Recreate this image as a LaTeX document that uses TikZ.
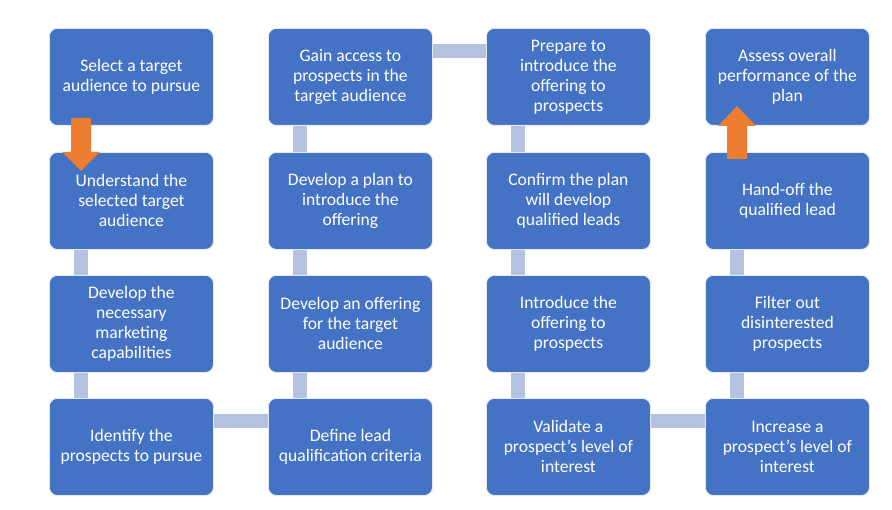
\documentclass[tikz,border=0pt]{standalone}
\usepackage{fontspec}
\setmainfont{Carlito}
\usetikzlibrary{backgrounds}
\definecolor{boxblue}{HTML}{4472C4}
\definecolor{connc}{HTML}{B4C1E1}
\definecolor{arrc}{HTML}{ED7D31}
\tikzset{
  stepbox/.style={draw=white!85!boxblue, line width=0.8bp, fill=boxblue, rounded corners=8bp,
    minimum width=164bp, minimum height=97bp, anchor=north west, align=center,
    text=white, inner sep=2bp, font=\fontsize{17.6bp}{20bp}\selectfont},
  conn/.style={draw=connc, line width=14bp},
  blockarrow/.style={fill=arrc}
}
\begin{document}
\begin{tikzpicture}[x=1bp,y=-1bp]
\useasboundingbox (0,0) rectangle (892,510);
% column 1
\node[stepbox] (a1) at (49,28) {Select a target\\audience to pursue};
\node[stepbox] (a2) at (49,152) {Understand the\\selected target\\audience};
\node[stepbox] (a3) at (49,275) {Develop the\\necessary\\marketing\\capabilities};
\node[stepbox] (a4) at (49,398) {Identify the\\prospects to pursue};
% column 2
\node[stepbox] (b1) at (268,28) {Gain access to\\prospects in the\\target audience};
\node[stepbox] (b2) at (268,152) {Develop a plan to\\introduce the\\offering};
\node[stepbox] (b3) at (268,275) {Develop an offering\\for the target\\audience};
\node[stepbox] (b4) at (268,398) {Define lead\\qualification criteria};
% column 3
\node[stepbox] (c1) at (486,28) {Prepare to\\introduce the\\offering to\\prospects};
\node[stepbox] (c2) at (486,152) {Confirm the plan\\will develop\\qualified leads};
\node[stepbox] (c3) at (486,275) {Introduce the\\offering to\\prospects};
\node[stepbox] (c4) at (486,398) {Validate a\\prospect’s level of\\interest};
% column 4
\node[stepbox] (d1) at (705,28) {Assess overall\\performance of the\\plan};
\node[stepbox] (d2) at (705,152) {Hand-off the\\qualified lead};
\node[stepbox] (d3) at (705,275) {Filter out\\disinterested\\prospects};
\node[stepbox] (d4) at (705,398) {Increase a\\prospect’s level of\\interest};
\begin{scope}[on background layer]
\fill[white] (0,0) rectangle (892,510);
% vertical connectors
\draw[conn] ([xshift=32bp]a2.south west) -- ([xshift=32bp]a3.north west);
\draw[conn] ([xshift=32bp]a3.south west) -- ([xshift=32bp]a4.north west);
\draw[conn] ([xshift=32bp]b4.north west) -- ([xshift=32bp]b3.south west);
\draw[conn] ([xshift=32bp]b3.north west) -- ([xshift=32bp]b2.south west);
\draw[conn] ([xshift=32bp]b2.north west) -- ([xshift=32bp]b1.south west);
\draw[conn] ([xshift=32bp]c1.south west) -- ([xshift=32bp]c2.north west);
\draw[conn] ([xshift=32bp]c2.south west) -- ([xshift=32bp]c3.north west);
\draw[conn] ([xshift=32bp]c3.south west) -- ([xshift=32bp]c4.north west);
\draw[conn] ([xshift=32bp]d4.north west) -- ([xshift=32bp]d3.south west);
\draw[conn] ([xshift=32bp]d3.north west) -- ([xshift=32bp]d2.south west);
% horizontal connectors
\draw[conn] ([yshift=-23bp]a4.north east) -- ([yshift=-23bp]b4.north west);
\draw[conn] ([yshift=-23bp]b1.north east) -- ([yshift=-23bp]c1.north west);
\draw[conn] ([yshift=-23bp]c4.north east) -- ([yshift=-23bp]d4.north west);
\end{scope}
% orange block arrows
\coordinate (dn) at ([xshift=32bp]a1.south west);
\fill[blockarrow] ([shift={(-10,-8)}]dn) -- ([shift={(10,-8)}]dn) -- ([shift={(10,26)}]dn)
  -- ([shift={(19,26)}]dn) -- ([shift={(0,45)}]dn) -- ([shift={(-19,26)}]dn)
  -- ([shift={(-10,26)}]dn) -- cycle;
\coordinate (up) at ([xshift=32bp]d2.north west);
\fill[blockarrow] ([shift={(-10,7)}]up) -- ([shift={(10,7)}]up) -- ([shift={(10,-26)}]up)
  -- ([shift={(19,-26)}]up) -- ([shift={(0,-46)}]up) -- ([shift={(-19,-26)}]up)
  -- ([shift={(-10,-26)}]up) -- cycle;
\end{tikzpicture}
\end{document}
